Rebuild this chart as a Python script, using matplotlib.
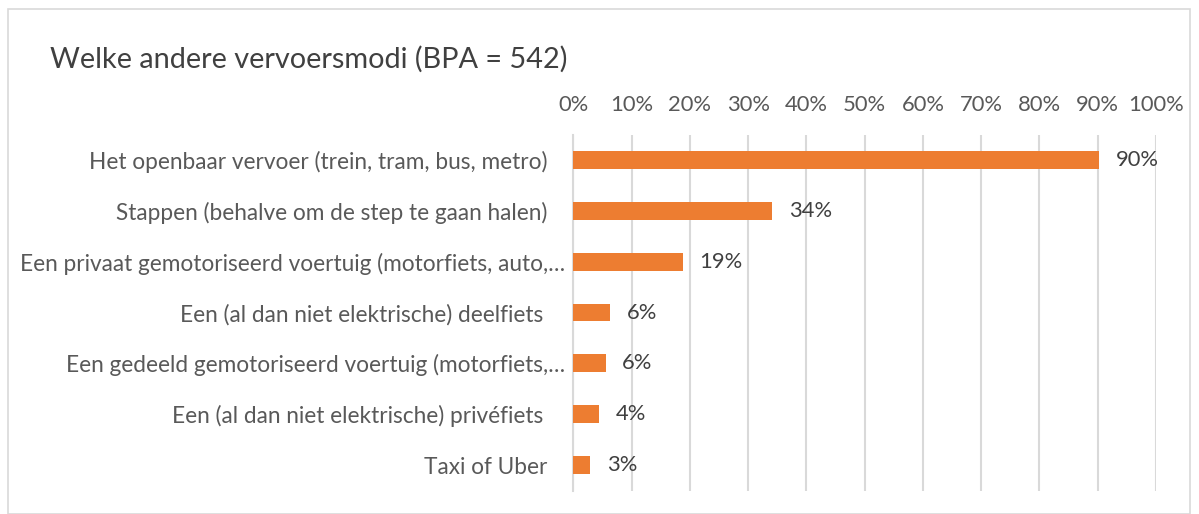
import matplotlib.pyplot as plt
from matplotlib.patches import Rectangle

categories = [
    "Het openbaar vervoer (trein, tram, bus, metro)",
    "Stappen (behalve om de step te gaan halen)",
    "Een privaat gemotoriseerd voertuig (motorfiets, auto,…",
    "Een (al dan niet elektrische) deelfiets",
    "Een gedeeld gemotoriseerd voertuig (motorfiets,…",
    "Een (al dan niet elektrische) privéfiets",
    "Taxi of Uber",
]
values = [0.902, 0.341, 0.188, 0.063, 0.055, 0.044, 0.029]
value_labels = ["90%", "34%", "19%", "6%", "6%", "4%", "3%"]
ticks = [i / 10 for i in range(11)]
tick_labels = [f"{i * 10}%" for i in range(11)]
title = "Welke andere vervoersmodi (BPA = 542)"

# per-label padding (Excel truncates long labels and pushes them closer)
label_pads = [18.5, 18.5, 6, 22, 6, 22, 18.5]

bar_color = "#ED7D31"
text_color = "#595959"
value_color = "#404040"
grid_color = "#D9D9D9"

plt.rcParams['font.family'] = ['Lato', 'DejaVu Sans']

fig = plt.figure(figsize=(11.99, 5.14), dpi=100)
ax = fig.add_axes([0.4783, 0.0457, 0.4858, 0.6926])

# outer chart border
fig.patches.append(Rectangle((8 / 1199, 0.0), (1190 - 8) / 1199, 1 - 9 / 514,
                             transform=fig.transFigure, fill=False,
                             edgecolor=grid_color, linewidth=1.2))

y = list(range(len(categories)))
ax.barh(y, values, height=0.35, color=bar_color, zorder=3)

for yi, v, lab in zip(y, values, value_labels):
    ax.annotate(lab, (v, yi), xytext=(12, 0), textcoords='offset points',
                va='center', ha='left', fontsize=15.8, color=value_color)

ax.set_xlim(0, 1)
ax.set_ylim(len(categories) - 0.5, -0.5)
ax.set_xticks(ticks)
ax.set_xticklabels(tick_labels)
ax.xaxis.tick_top()
ax.tick_params(axis='x', length=0, pad=14, labelsize=15.8, labelcolor=text_color)
ax.set_yticks(y)
ax.set_yticklabels(categories)
ax.tick_params(axis='y', length=0, labelsize=16.3, labelcolor=text_color)
for tick, pad in zip(ax.yaxis.get_major_ticks(), label_pads):
    tick.set_pad(pad)

ax.grid(axis='x', color=grid_color, linewidth=1.5, zorder=0)
for side in ['top', 'right', 'bottom']:
    ax.spines[side].set_visible(False)
ax.spines['left'].set_color(grid_color)
ax.spines['left'].set_linewidth(1.5)

fig.text(50 / 1199, 1 - 68 / 514, title, fontsize=20.8, color="#404040",
         ha='left', va='baseline')

fig.savefig("out.png", dpi=100)
